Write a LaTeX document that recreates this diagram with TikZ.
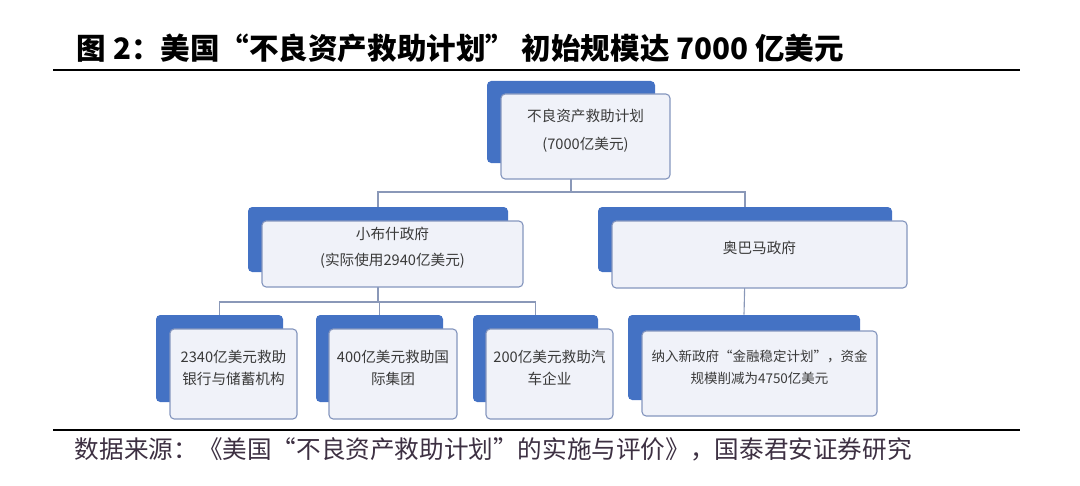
\documentclass[tikz,border=0pt]{standalone}
\usepackage{fontspec}
\setmainfont{Noto Sans CJK SC}
\usepackage{xcolor}
\usetikzlibrary{fit}
\definecolor{backblue}{HTML}{4472C4}
\definecolor{frontfill}{HTML}{F0F2F9}
\definecolor{frontline}{HTML}{8596BE}
\definecolor{linkgray}{HTML}{8A98B8}
\definecolor{boxtext}{HTML}{3A3A3A}
\definecolor{srctext}{HTML}{3D3042}

\begin{document}
\begin{tikzpicture}[x=0.025cm, y=-0.025cm,
  backbox/.style={fill=backblue, draw=none, rounded corners=3pt, inner sep=0pt},
  frontbox/.style={fill=frontfill, draw=frontline, line width=0.8pt, rounded corners=3pt,
    inner sep=0pt, text=boxtext, align=center, font=\fontsize{10.4}{15.6}\selectfont},
  link/.style={draw=linkgray, line width=0.8pt},
  rule/.style={line width=1.5pt}]
\useasboundingbox (0,0) rectangle (1080,486);

% === Title and rules ===
\node[anchor=west, font=\fontsize{21}{25}\selectfont\bfseries] (title) at (72,48)
  {图 2：美国“不良资产救助计划”\ 初始规模达 7000 亿美元};
\draw[rule] (53,70) -- (1020,70);
\draw[rule] (53,430) -- (1020,430);
\node[anchor=west, font=\fontsize{17.5}{20}\selectfont, text=srctext] (source) at (70,449)
  {数据来源：《美国“不良资产救助计划”的实施与评价》，国泰君安证券研究};

% === Blue back boxes ===
\node[backbox, fit={(487,81) (655,163)}] (planback) {};
\node[backbox, fit={(248,207) (508,272)}] (bushback) {};
\node[backbox, fit={(598,207) (892,272)}] (obamaback) {};
\node[backbox, fit={(156,315) (283,402)}] (bankback) {};
\node[backbox, fit={(316,315) (443,402)}] (aigback) {};
\node[backbox, fit={(473,315) (598,402)}] (autoback) {};
\node[backbox, fit={(628,315) (860,400)}] (tarpback) {};

% === Links ===
\coordinate (plansplit) at (571,192);
\draw[link] (planback.south) -- (plansplit);
\draw[link] (bushback.north) |- (plansplit) -| (obamaback.north);
\coordinate (bushsplit) at (378,302);
\draw[link] (bushback.south) -- (bushsplit);
\draw[link] (bankback.north) |- (bushsplit) -| (autoback.north);
\draw[link] (aigback.north) -- (aigback.north |- bushsplit);
\draw[link] (obamaback.south) -- (tarpback.north);

% === Front boxes ===
\node[frontbox, fit={(501,94) (670,179)}] (plan) {不良资产救助计划\\[4.3pt](7000亿美元)};
\node[frontbox, fit={(262,221) (523,287)}] (bush) {小布什政府\\[3.5pt](实际使用2940亿美元)};
\node[frontbox, fit={(612,221) (907,288)}] (obama) {奥巴马政府};
\node[frontbox, fit={(170,329) (297,419)}] (bank) {2340亿美元救助\\银行与储蓄机构};
\node[frontbox, fit={(329,329) (457,419)}] (aig) {400亿美元救助国\\际集团};
\node[frontbox, fit={(486,329) (613,419)}] (auto) {200亿美元救助汽\\车企业};
\node[frontbox, fit={(642,331) (877,416)}, font=\fontsize{9.6}{15.6}\selectfont] (tarp)
  {纳入新政府“金融稳定计划”，资金\\规模削减为4750亿美元};

\end{tikzpicture}
\end{document}
